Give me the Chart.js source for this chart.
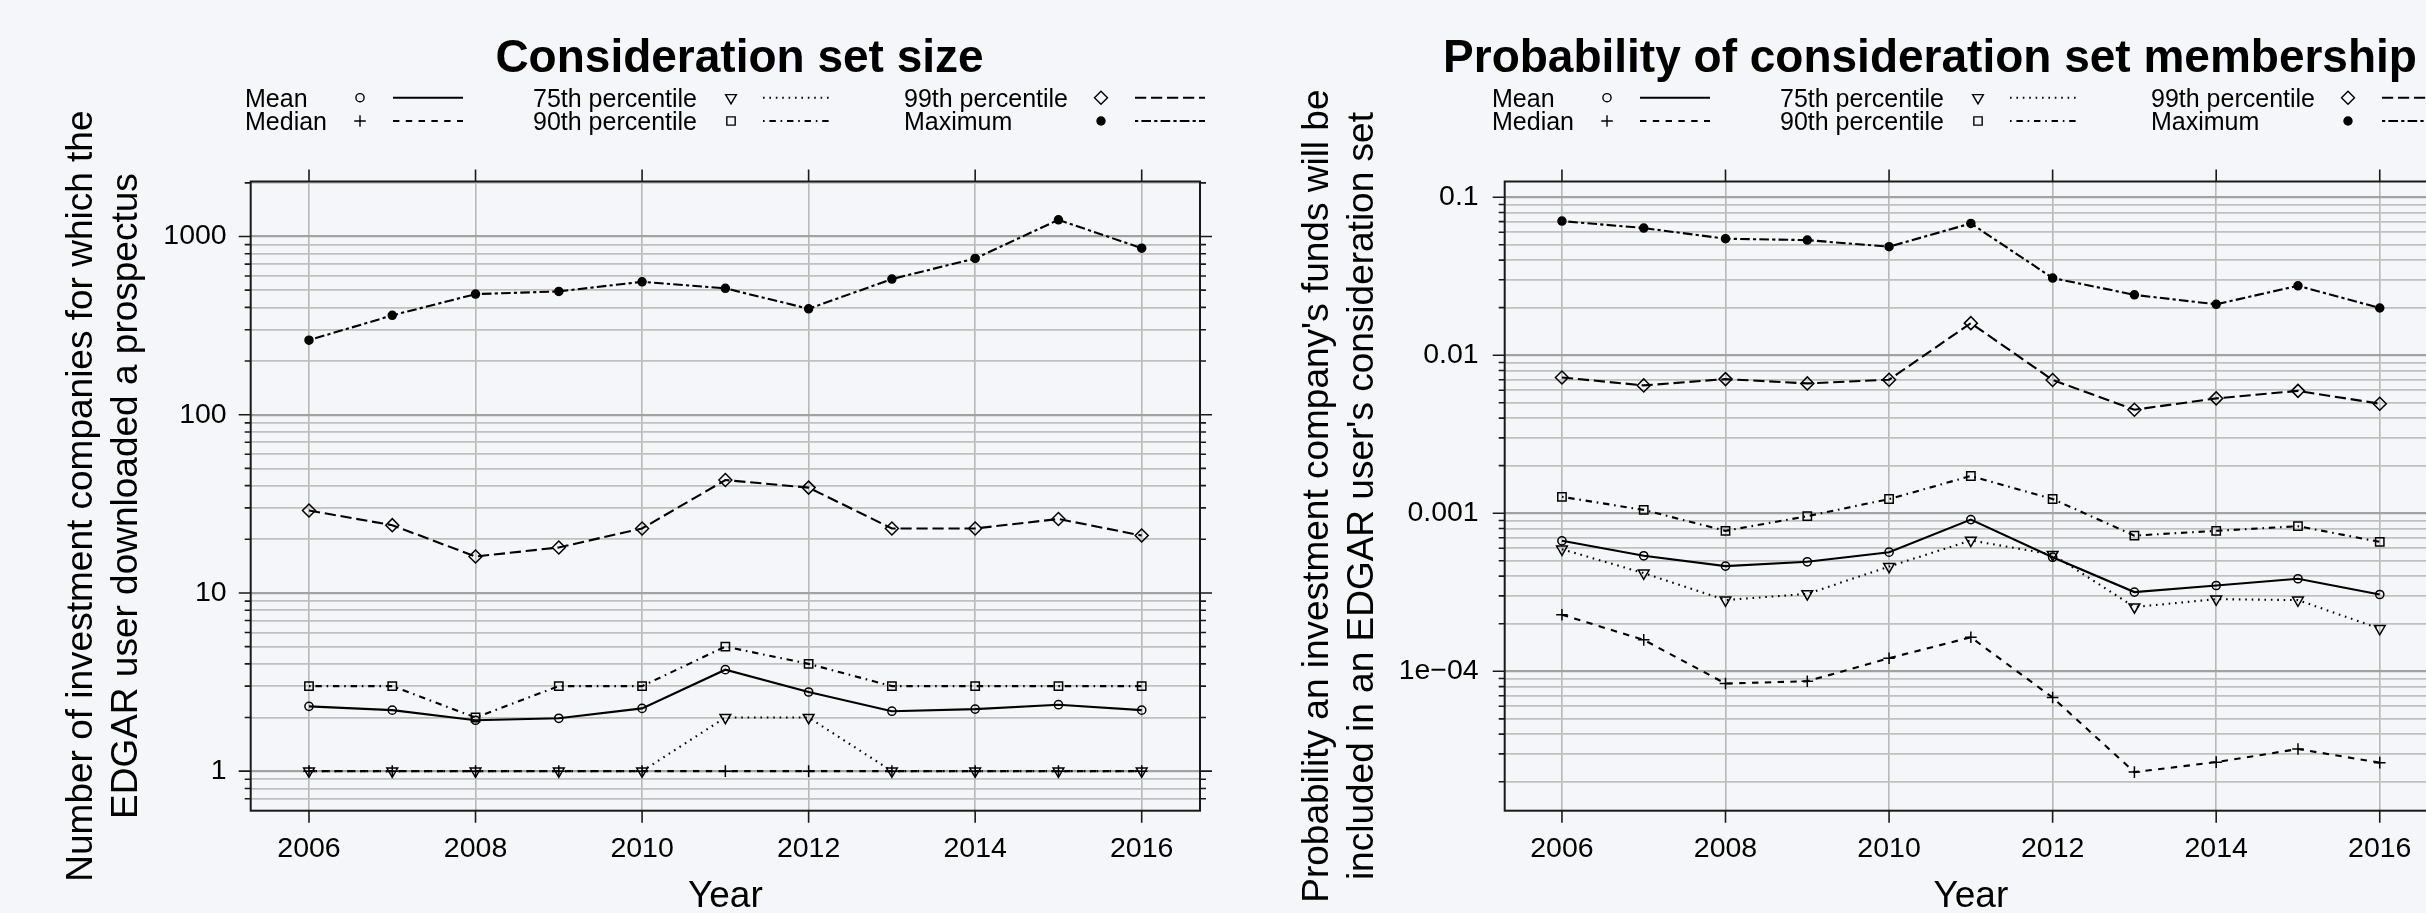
<!DOCTYPE html>
<html>
<head>
<meta charset="utf-8">
<title>Consideration sets</title>
<script src="https://cdn.jsdelivr.net/npm/chart.js@4.4.1/dist/chart.umd.min.js"></script>
<style>
  html, body { margin: 0; padding: 0; background: #f5f6fa; }
  #stage { position: relative; width: 2426px; height: 913px; overflow: hidden; }
  .panel { position: absolute; top: 0; height: 913px; }
  #leftPanel { left: 0; width: 1213px; }
  #rightPanel { left: 1213px; width: 1300px; }
  canvas { display: block; }
</style>
</head>
<body>
<div id="stage">
  <div class="panel" id="leftPanel"><canvas id="sizeChart" width="1213" height="913"></canvas></div>
  <div class="panel" id="rightPanel"><canvas id="probChart" width="1300" height="913"></canvas></div>
</div>
<script>
// data
const years = [2006, 2007, 2008, 2009, 2010, 2011, 2012, 2013, 2014, 2015, 2016];
const xTickYears = [2006, 2008, 2010, 2012, 2014, 2016];
const xTickLabels = ['2006', '2008', '2010', '2012', '2014', '2016'];

const seriesLabels = ['Mean', 'Median', '75th percentile', '90th percentile', '99th percentile', 'Maximum'];

// consideration set size
const sizeMean   = [2.31, 2.20, 1.93, 1.98, 2.25, 3.71, 2.78, 2.17, 2.23, 2.36, 2.20];
const sizeMedian = [1, 1, 1, 1, 1, 1, 1, 1, 1, 1, 1];
const size75     = [1, 1, 1, 1, 1, 2, 2, 1, 1, 1, 1];
const size90     = [3, 3, 2, 3, 3, 5, 4, 3, 3, 3, 3];
const size99     = [29, 24, 16, 18, 23, 43, 39, 23, 23, 26, 21];
const sizeMax    = [262, 361, 475, 492, 557, 512, 393, 577, 753, 1240, 860];
const sizeTickValues = [1, 10, 100, 1000];
const sizeTickLabels = ['1', '10', '100', '1000'];

// probability of membership
const probMean   = [6.69e-4, 5.38e-4, 4.63e-4, 4.93e-4, 5.67e-4, 9.12e-4, 5.27e-4, 3.17e-4, 3.49e-4, 3.85e-4, 3.06e-4];
const probMedian = [2.28e-4, 1.58e-4, 8.36e-5, 8.65e-5, 1.21e-4, 1.64e-4, 6.82e-5, 2.30e-5, 2.66e-5, 3.22e-5, 2.64e-5];
const prob75     = [5.92e-4, 4.18e-4, 2.82e-4, 3.09e-4, 4.60e-4, 6.73e-4, 5.48e-4, 2.55e-4, 2.86e-4, 2.82e-4, 1.86e-4];
const prob90     = [1.27e-3, 1.05e-3, 7.74e-4, 9.58e-4, 1.23e-3, 1.72e-3, 1.23e-3, 7.22e-4, 7.74e-4, 8.28e-4, 6.59e-4];
const prob99     = [7.23e-3, 6.44e-3, 7.06e-3, 6.63e-3, 7.00e-3, 1.596e-2, 6.97e-3, 4.52e-3, 5.33e-3, 5.95e-3, 4.93e-3];
const probMax    = [0.0706, 0.0638, 0.0546, 0.0535, 0.0486, 0.0682, 0.0308, 0.0241, 0.0210, 0.0275, 0.0199];
const probTickValues = [1e-4, 1e-3, 1e-2, 1e-1];
const probTickLabels = ['1e\u221204', '0.001', '0.01', '0.1'];

// styles (R lty units)
const FONT = '"Liberation Sans", Arial, Helvetica, sans-serif';
const U = 1.6;
const seriesStyles = [
  { pointStyle: 'circle',   radius: 4.1, rotation: 0,   fill: false, dash: [] },
  { pointStyle: 'cross',    radius: 5.8, rotation: 0,   fill: false, dash: [4 * U, 4 * U] },
  { pointStyle: 'triangle', radius: 6.2, rotation: 180, fill: false, dash: [1 * U, 3 * U] },
  { pointStyle: 'rect',     radius: 5.9, rotation: 0,   fill: false, dash: [1 * U, 3 * U, 4 * U, 3 * U] },
  { pointStyle: 'rectRot',  radius: 6.5, rotation: 0,   fill: false, dash: [7 * U, 3 * U] },
  { pointStyle: 'circle',   radius: 4.0, rotation: 0,   fill: true,  dash: [2 * U, 2 * U, 6 * U, 2 * U] }
];

const legendTextDx = [0, 288, 659];
const legendSymbolDx = [115, 486, 856];
const legendLineDx = [148, 518, 890];
const legendRowBase = [106.7, 130];

Chart.defaults.font.family = FONT;
Chart.defaults.color = '#000';

function logTicks(min, max) {
  const out = [];
  for (let e = Math.floor(Math.log10(min)); e <= Math.ceil(Math.log10(max)); e++) {
    for (let m = 1; m <= 9; m++) {
      const v = m * Math.pow(10, e);
      if (v >= min && v <= max) out.push({ value: v, major: m === 1 });
    }
  }
  return out;
}

function tickLabel(values, labels) {
  return function(value) {
    const i = values.findIndex(t => Math.abs(Math.log10(t) - Math.log10(value)) < 1e-6);
    return i >= 0 ? labels[i] : '';
  };
}

// box, tick marks, titles and the lattice-style legend
function makeFrame(panel) {
  return {
    id: 'rFrame',
    afterDraw(chart) {
      const ctx = chart.ctx, a = chart.chartArea;
      const xs = chart.scales.x, ys = chart.scales.y;
      const off = panel.canvasLeft;
      ctx.save();
      ctx.setLineDash([]);
      ctx.strokeStyle = '#1a1a1a';
      ctx.lineWidth = 1.6;
      ctx.beginPath();
      xs.ticks.forEach(t => {
        const px = xs.getPixelForValue(t.value);
        ctx.moveTo(px, a.top - 12); ctx.lineTo(px, a.top);
        ctx.moveTo(px, a.bottom); ctx.lineTo(px, a.bottom + 12);
      });
      ys.ticks.forEach(t => {
        const py = ys.getPixelForValue(t.value);
        const len = t.major ? 12 : 6;
        ctx.moveTo(a.left - len, py); ctx.lineTo(a.left, py);
        ctx.moveTo(a.right, py); ctx.lineTo(a.right + len, py);
      });
      ctx.stroke();
      ctx.lineWidth = 2;
      ctx.strokeRect(a.left, a.top, a.right - a.left, a.bottom - a.top);

      ctx.fillStyle = '#000';
      ctx.textAlign = 'center';
      ctx.textBaseline = 'alphabetic';
      ctx.font = 'bold 46px ' + FONT;
      ctx.fillText(panel.title, panel.titleX - off, 72);

      ctx.font = '37px ' + FONT;
      ctx.fillText('Year', (a.left + a.right) / 2, 907);
      panel.yTitle.forEach((line, i) => {
        ctx.save();
        ctx.translate(panel.yTitleX[i] - off, (a.top + a.bottom) / 2);
        ctx.rotate(-Math.PI / 2);
        ctx.fillText(line, 0, 0);
        ctx.restore();
      });

      // legend: 3 columns x 2 rows, filled column by column
      const x0 = panel.legendX - off;
      seriesLabels.forEach((label, i) => {
        const col = Math.floor(i / 2), row = i % 2;
        const base = legendRowBase[row];
        const ym = base - 9;
        const st = seriesStyles[i];
        ctx.font = '25px ' + FONT;
        ctx.textAlign = 'left';
        ctx.fillStyle = '#000';
        ctx.fillText(label, x0 + legendTextDx[col], base);

        ctx.strokeStyle = '#000';
        ctx.fillStyle = st.fill ? '#000' : 'rgba(0,0,0,0)';
        ctx.lineWidth = 1.4;
        if (Chart.helpers && Chart.helpers.drawPoint) {
          Chart.helpers.drawPoint(ctx, { pointStyle: st.pointStyle, radius: st.radius, rotation: st.rotation, borderWidth: 1.4 },
            x0 + legendSymbolDx[col], ym);
        }
        ctx.beginPath();
        ctx.lineWidth = 2;
        ctx.setLineDash(st.dash);
        ctx.moveTo(x0 + legendLineDx[col], ym);
        ctx.lineTo(x0 + legendLineDx[col] + 70, ym);
        ctx.stroke();
        ctx.setLineDash([]);
      });
      ctx.restore();
    }
  };
}

function makeChart(canvasId, panel) {
  const datasets = panel.series.map((values, i) => {
    const st = seriesStyles[i];
    return {
      label: seriesLabels[i],
      data: years.map((yr, j) => ({ x: yr, y: values[j] })),
      borderColor: '#000',
      borderWidth: 2.1,
      borderDash: st.dash,
      borderCapStyle: 'butt',
      tension: 0,
      fill: false,
      pointStyle: st.pointStyle,
      pointRadius: st.radius,
      pointRotation: st.rotation,
      pointBorderWidth: 1.5,
      pointBorderColor: '#000',
      pointBackgroundColor: st.fill ? '#000' : 'rgba(0,0,0,0)'
    };
  });

  return new Chart(document.getElementById(canvasId), {
    type: 'line',
    data: { datasets },
    options: {
      responsive: false,
      animation: false,
      events: [],
      layout: { padding: { left: 0, top: panel.boxTop, right: panel.padRight, bottom: 0 } },
      plugins: { legend: { display: false }, tooltip: { enabled: false } },
      scales: {
        x: {
          type: 'linear',
          min: 2005.3,
          max: 2016.7,
          afterBuildTicks: s => { s.ticks = xTickYears.map(v => ({ value: v })); },
          afterFit: s => { s.height = 913 - panel.boxBottom; },
          grid: { color: '#b8b8b8', lineWidth: 1.6, drawTicks: false },
          border: { display: false },
          ticks: {
            font: { size: 28.5 },
            padding: 21,
            maxRotation: 0,
            autoSkip: false,
            callback: v => xTickLabels[xTickYears.indexOf(v)]
          }
        },
        y: {
          type: 'logarithmic',
          min: panel.yMin,
          max: panel.yMax,
          afterBuildTicks: s => { s.ticks = logTicks(panel.yMin, panel.yMax); },
          afterFit: s => { s.width = panel.boxLeft; },
          grid: {
            color: c => (c.tick && c.tick.major) ? '#a2a2a2' : '#c0c0c0',
            lineWidth: c => (c.tick && c.tick.major) ? 2.2 : 1.7,
            drawTicks: false
          },
          border: { display: false },
          ticks: {
            font: { size: 28.5 },
            padding: panel.tickPad,
            autoSkip: false,
            callback: tickLabel(panel.tickValues, panel.tickLabels)
          }
        }
      }
    },
    plugins: [makeFrame(panel)]
  });
}

makeChart('sizeChart', {
  canvasLeft: 0,
  series: [sizeMean, sizeMedian, size75, size90, size99, sizeMax],
  tickValues: sizeTickValues,
  tickLabels: sizeTickLabels,
  yMin: 0.607,
  yMax: 2035,
  boxLeft: 250.7,
  boxTop: 181.5,
  boxBottom: 810.7,
  padRight: 13,
  tickPad: 24,
  title: 'Consideration set size',
  titleX: 739.5,
  yTitle: ['Number of investment companies for which the', 'EDGAR user downloaded a prospectus'],
  yTitleX: [92, 137],
  legendX: 245
});

makeChart('probChart', {
  canvasLeft: 1213,
  series: [probMean, probMedian, prob75, prob90, prob99, probMax],
  tickValues: probTickValues,
  tickLabels: probTickLabels,
  yMin: 1.311e-5,
  yMax: 0.1257,
  boxLeft: 291.7,
  boxTop: 181.5,
  boxBottom: 810.7,
  padRight: 76,
  tickPad: 26,
  title: 'Probability of consideration set membership',
  titleX: 1930,
  yTitle: ["Probability an investment company's funds will be", "included in an EDGAR user's consideration set"],
  yTitleX: [1328, 1373],
  legendX: 1492
});
</script>
</body>
</html>
